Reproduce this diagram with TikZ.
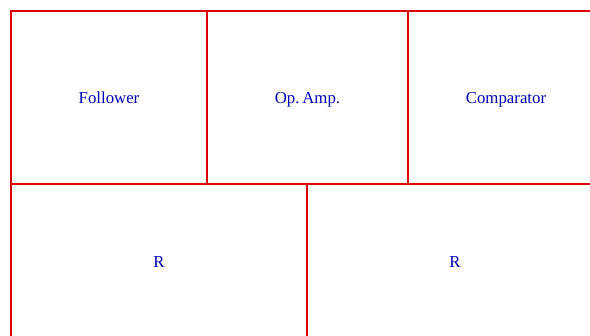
\documentclass[tikz,border=0pt]{standalone}
\usepackage{fontspec}
\setmainfont{Liberation Serif}
\definecolor{cellred}{RGB}{221,0,0}
\definecolor{textblue}{RGB}{0,0,185}
\begin{document}
\begin{tikzpicture}[x=1pt,y=-1pt,
  cell/.style={draw=cellred, line width=2.2pt, rectangle, inner sep=0pt,
    text=textblue, text height=13pt, text depth=1pt,
    font=\fontsize{16.8}{19}\selectfont}]
\useasboundingbox (0,0) rectangle (590,336);
\clip (0,0) rectangle (590,336);
\node[cell, minimum width=196pt, minimum height=173pt] (follower) at (109,97.5) {Follower};
\node[cell, minimum width=201pt, minimum height=173pt] (opamp) at (307.5,97.5) {Op.\,Amp.};
\node[cell, minimum width=196pt, minimum height=173pt] (comparator) at (506,97.5) {Comparator};
\node[cell, minimum width=296pt, minimum height=156pt] (r1) at (159,262) {R};
\node[cell, minimum width=296pt, minimum height=156pt] (r2) at (455,262) {R};
\end{tikzpicture}
\end{document}
